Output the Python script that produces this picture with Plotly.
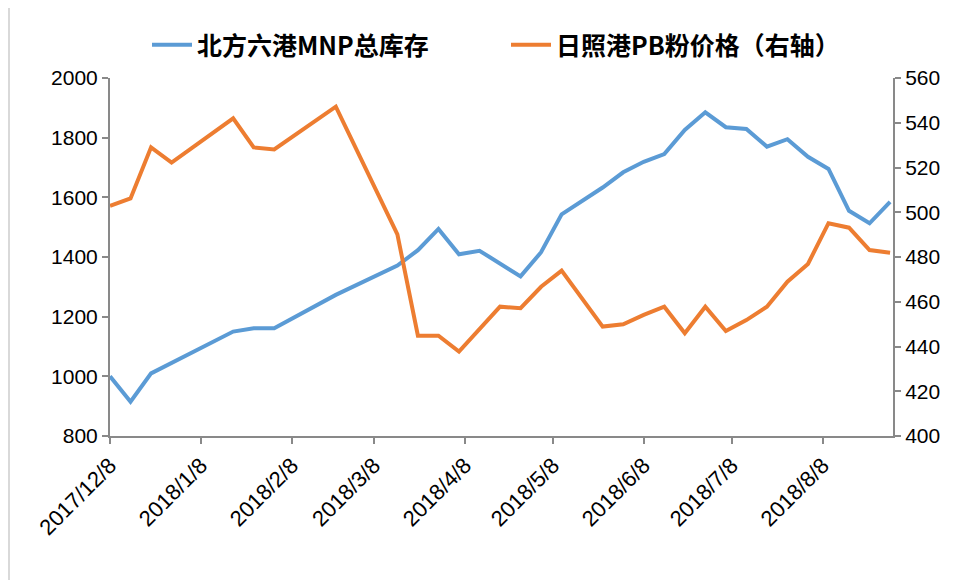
import plotly.graph_objects as go

# weekly observation dates (None = no observation for that series on that date)
dates = [
    "2017-12-08", "2017-12-15", "2017-12-22", "2017-12-29",
    "2018-01-19", "2018-01-26", "2018-02-02", "2018-02-23",
    "2018-03-16", "2018-03-23", "2018-03-30", "2018-04-06",
    "2018-04-13", "2018-04-20", "2018-04-27", "2018-05-04",
    "2018-05-11", "2018-05-25", "2018-06-01", "2018-06-08",
    "2018-06-15", "2018-06-22", "2018-06-29", "2018-07-06",
    "2018-07-13", "2018-07-20", "2018-07-27", "2018-08-03",
    "2018-08-10", "2018-08-17", "2018-08-24", "2018-08-31",
]
mnp_stock = [
    1000, 915, 1010, None,
    1150, 1161, 1161, 1273,
    1371, 1423, 1494, 1409,
    1421, None, 1335, 1416,
    1543, 1633, 1684, 1719,
    1745, 1826, 1885, 1835,
    1829, 1770, 1795, 1736,
    1695, 1555, 1513, 1585,
]
pb_price = [
    502.9, 506.2, 529.0, 522.2,
    542.0, 529.0, 528.1, 547.2,
    490.1, 444.8, 444.8, 437.7,
    None, 457.8, 457.1, 466.7,
    473.9, 448.9, 449.9, 454.1,
    457.8, 445.9, 457.8, 446.9,
    451.8, 457.8, 469.0, 476.9,
    495.1, 493.1, 483.1, 481.9,
]
series_names = ["北方六港MNP总库存", "日照港PB粉价格（右轴）"]
tick_dates = ["2017-12-08", "2018-01-08", "2018-02-08", "2018-03-08", "2018-04-08",
              "2018-05-08", "2018-06-08", "2018-07-08", "2018-08-08"]
tick_labels = ["2017/12/8", "2018/1/8", "2018/2/8", "2018/3/8", "2018/4/8",
               "2018/5/8", "2018/6/8", "2018/7/8", "2018/8/8"]
left_ticks = [800, 1000, 1200, 1400, 1600, 1800, 2000]
right_ticks = [400, 420, 440, 460, 480, 500, 520, 540, 560]

BLUE = "#5B9BD5"
ORANGE = "#ED7D31"
AXIS = "#898989"
TICKFONT = dict(family="Liberation Sans, Arial, sans-serif", size=21, color="#000000")

fig = go.Figure()
fig.add_trace(go.Scatter(x=dates, y=mnp_stock, name=series_names[0], mode="lines",
                         line=dict(color=BLUE, width=4), connectgaps=True, yaxis="y"))
fig.add_trace(go.Scatter(x=dates, y=pb_price, name=series_names[1], mode="lines",
                         line=dict(color=ORANGE, width=4), connectgaps=True, yaxis="y2"))

# page body has an 8px offset; target plot area is x 110..893, y 78..436 on screen
OFF = 8
W, H = 958, 580
ml, mt = 110 - OFF, 78 - OFF
pw, ph = 783, 358
mr = W - ml - pw
mb = H - mt - ph

def px_x(p):
    return (p - OFF - ml) / pw

def px_y(p):
    return (H - mb - (p - OFF)) / ph

fig.update_layout(
    width=W, height=H,
    margin=dict(l=ml, r=mr, t=mt, b=mb),
    paper_bgcolor="white", plot_bgcolor="white",
    showlegend=True,
    legend=dict(orientation="h", x=px_x(147), y=px_y(45), xanchor="left", yanchor="middle",
                font=dict(family="Noto Sans CJK SC", size=25, color="#000000", weight="bold"),
                itemwidth=40, entrywidth=304, tracegroupgap=0, bgcolor="rgba(0,0,0,0)"),
    xaxis=dict(type="date", range=["2017-12-08", "2018-09-01"],
               tickmode="array", tickvals=tick_dates, ticktext=tick_labels,
               tickangle=-45, tickfont=dict(family="Liberation Sans, Arial, sans-serif", size=22, color="#000"),
               showgrid=False, zeroline=False, showline=True, linecolor=AXIS, linewidth=2,
               ticks="outside", ticklen=6, tickwidth=2, tickcolor=AXIS),
    yaxis=dict(range=[800, 2000], tickmode="array", tickvals=left_ticks,
               tickfont=TICKFONT, showgrid=False, zeroline=False,
               showline=True, linecolor=AXIS, linewidth=2,
               ticks="outside", ticklen=6, tickwidth=2, tickcolor=AXIS),
    yaxis2=dict(range=[400, 560], tickmode="array", tickvals=right_ticks,
                tickfont=TICKFONT, overlaying="y", side="right", showgrid=False, zeroline=False,
                showline=True, linecolor=AXIS, linewidth=2,
                ticks="outside", ticklen=6, tickwidth=2, tickcolor=AXIS),
    shapes=[
        dict(type="line", xref="paper", yref="paper", x0=px_x(9), x1=px_x(9),
             y0=px_y(0), y1=px_y(H), line=dict(color="#d9d9d9", width=2)),
        dict(type="line", xref="paper", yref="paper", x0=px_x(2), x1=px_x(2),
             y0=px_y(0), y1=px_y(H), line=dict(color="#c0c0c0", width=1, dash="dot")),
    ],
)

fig.write_html("out.html")
